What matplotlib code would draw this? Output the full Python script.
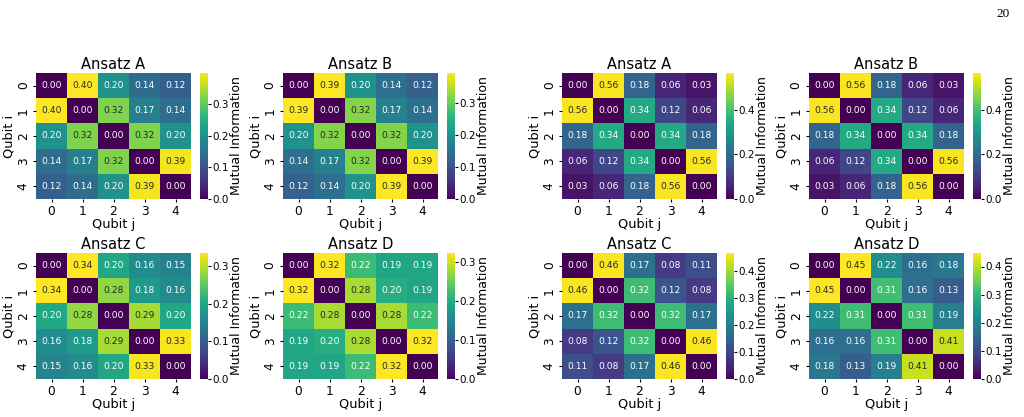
import numpy as np
import matplotlib
matplotlib.use("Agg")
import matplotlib.pyplot as plt
from matplotlib.ticker import MultipleLocator
import seaborn as sns

qubits = [0, 1, 2, 3, 4]

# left group
mi_a1 = [[0.00, 0.40, 0.20, 0.14, 0.12],
         [0.40, 0.00, 0.32, 0.17, 0.14],
         [0.20, 0.32, 0.00, 0.32, 0.20],
         [0.14, 0.17, 0.32, 0.00, 0.39],
         [0.12, 0.14, 0.20, 0.39, 0.00]]
mi_b1 = [[0.00, 0.39, 0.20, 0.14, 0.12],
         [0.39, 0.00, 0.32, 0.17, 0.14],
         [0.20, 0.32, 0.00, 0.32, 0.20],
         [0.14, 0.17, 0.32, 0.00, 0.39],
         [0.12, 0.14, 0.20, 0.39, 0.00]]
mi_c1 = [[0.00, 0.34, 0.20, 0.16, 0.15],
         [0.34, 0.00, 0.28, 0.18, 0.16],
         [0.20, 0.28, 0.00, 0.29, 0.20],
         [0.16, 0.18, 0.29, 0.00, 0.33],
         [0.15, 0.16, 0.20, 0.33, 0.00]]
mi_d1 = [[0.00, 0.32, 0.22, 0.19, 0.19],
         [0.32, 0.00, 0.28, 0.20, 0.19],
         [0.22, 0.28, 0.00, 0.28, 0.22],
         [0.19, 0.20, 0.28, 0.00, 0.32],
         [0.19, 0.19, 0.22, 0.32, 0.00]]

# right group
mi_a2 = [[0.00, 0.56, 0.18, 0.06, 0.03],
         [0.56, 0.00, 0.34, 0.12, 0.06],
         [0.18, 0.34, 0.00, 0.34, 0.18],
         [0.06, 0.12, 0.34, 0.00, 0.56],
         [0.03, 0.06, 0.18, 0.56, 0.00]]
mi_b2 = [[0.00, 0.56, 0.18, 0.06, 0.03],
         [0.56, 0.00, 0.34, 0.12, 0.06],
         [0.18, 0.34, 0.00, 0.34, 0.18],
         [0.06, 0.12, 0.34, 0.00, 0.56],
         [0.03, 0.06, 0.18, 0.56, 0.00]]
mi_c2 = [[0.00, 0.46, 0.17, 0.08, 0.11],
         [0.46, 0.00, 0.32, 0.12, 0.08],
         [0.17, 0.32, 0.00, 0.32, 0.17],
         [0.08, 0.12, 0.32, 0.00, 0.46],
         [0.11, 0.08, 0.17, 0.46, 0.00]]
mi_d2 = [[0.00, 0.45, 0.22, 0.16, 0.18],
         [0.45, 0.00, 0.31, 0.16, 0.13],
         [0.22, 0.31, 0.00, 0.31, 0.19],
         [0.16, 0.16, 0.31, 0.00, 0.41],
         [0.18, 0.13, 0.19, 0.41, 0.00]]

titles = ["Ansatz A", "Ansatz B", "Ansatz C", "Ansatz D"]
panels = [mi_a1, mi_b1, mi_c1, mi_d1, mi_a2, mi_b2, mi_c2, mi_d2]
# colour scale top (unrounded maxima) and colourbar tick step
cbar_top = [0.397, 0.392, 0.335, 0.322, 0.565, 0.565, 0.465, 0.448]
cbar_step = [0.1, 0.1, 0.1, 0.1, 0.2, 0.2, 0.1, 0.1]

W, H = 1024, 417
fig = plt.figure(figsize=(W / 100, H / 100), dpi=100)

col_left = [36, 283, 562, 809]
row_top = [73, 253]
hm_w, hm_h = 155, 126
cb_gap, cb_w = 9, 7.5

for k, mat in enumerate(panels):
    group = k // 4
    idx = k % 4
    r, c = idx // 2, idx % 2
    x0 = col_left[group * 2 + c]
    y0 = row_top[r]
    ax = fig.add_axes([x0 / W, 1 - (y0 + hm_h) / H, hm_w / W, hm_h / H])
    cax = fig.add_axes([(x0 + hm_w + cb_gap) / W, 1 - (y0 + hm_h) / H, cb_w / W, hm_h / H])
    sns.heatmap(np.array(mat), ax=ax, cbar_ax=cax, cmap="viridis", annot=True, fmt=".2f",
                vmin=0, vmax=cbar_top[k],
                annot_kws={"size": 6.6}, xticklabels=qubits, yticklabels=qubits,
                cbar_kws={"label": "Mutual Information"})
    ax.set_title(titles[idx], fontsize=10.5, pad=3)
    ax.set_xlabel("Qubit j", fontsize=9.3, labelpad=0)
    ax.set_ylabel("Qubit i", fontsize=9.3, labelpad=1)
    ax.tick_params(axis="both", labelsize=8.8, length=2.5, pad=2)
    plt.setp(ax.get_yticklabels(), rotation=90, va="center")
    plt.setp(ax.get_xticklabels(), rotation=0)
    cax.yaxis.set_major_locator(MultipleLocator(cbar_step[k]))
    cax.tick_params(labelsize=7.5, length=2.5, pad=1)
    cax.yaxis.label.set_size(9)
    cax.yaxis.labelpad = 1

fig.text(1003 / W, 1 - 14 / H, "20", family="Liberation Serif", fontsize=9.5, ha="center", va="center")

fig.savefig("out.png", dpi=100)
